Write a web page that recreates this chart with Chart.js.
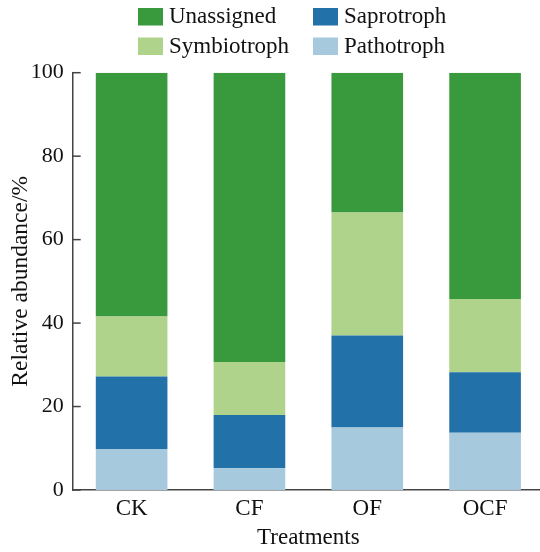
<!DOCTYPE html>
<html>
<head>
<meta charset="utf-8">
<script src="https://cdn.jsdelivr.net/npm/chart.js@4/dist/chart.umd.min.js"></script>
<style>
  html, body { margin: 0; padding: 0; background: #fff; overflow: hidden; }
  #wrap { width: 540px; height: 552px; overflow: hidden; }
</style>
</head>
<body>
<div id="wrap"><canvas id="c" width="544" height="552"></canvas></div>
<script>
// Fungal functional guilds per treatment (relative abundance, %)
const categories = ['CK', 'CF', 'OF', 'OCF'];
const pathotroph  = [9.8, 5.2, 15.0, 13.7];
const saprotroph  = [17.4, 12.8, 22.0, 14.5];
const symbiotroph = [14.4, 12.7, 29.5, 17.6];
const unassigned  = [58.4, 69.3, 33.5, 54.2];
const yTicks = [0, 20, 40, 60, 80, 100];

const colors = {
  Pathotroph: '#a6c9dd',
  Saprotroph: '#2271a8',
  Symbiotroph: '#afd38b',
  Unassigned: '#389a3c'
};

const FONT = "'Liberation Serif', 'Times New Roman', serif";
const AXIS = '#444444';

// Legend laid out in two aligned columns
const legendPlugin = {
  id: 'gridLegend',
  afterDraw(chart) {
    const ctx = chart.ctx;
    const order = ['Unassigned', 'Saprotroph', 'Symbiotroph', 'Pathotroph'];
    const colX = [138, 313];
    const rowY = [8, 37.5];
    ctx.save();
    ctx.font = '23px ' + FONT;
    ctx.textBaseline = 'middle';
    ctx.textAlign = 'left';
    order.forEach((name, i) => {
      const ds = chart.data.datasets.find(d => d.label === name);
      const x = colX[i % 2];
      const y = rowY[Math.floor(i / 2)];
      ctx.fillStyle = ds.backgroundColor;
      ctx.fillRect(x, y, 25, 17.5);
      ctx.fillStyle = '#111';
      ctx.fillText(name, x + 31, y + 9);
    });
    ctx.restore();
  }
};

// Inward-facing tick marks on the value axis
const innerTicks = {
  id: 'innerTicks',
  afterDraw(chart) {
    const ctx = chart.ctx;
    const y = chart.scales.y;
    const x0 = chart.chartArea.left;
    ctx.save();
    ctx.strokeStyle = AXIS;
    ctx.lineWidth = 1.5;
    yTicks.forEach(v => {
      const py = y.getPixelForValue(v);
      ctx.beginPath();
      ctx.moveTo(x0, py);
      ctx.lineTo(x0 + 8, py);
      ctx.stroke();
    });
    ctx.restore();
  }
};

const mk = (label, data) => ({
  label, data,
  backgroundColor: colors[label],
  borderWidth: 0,
  barPercentage: 0.608,
  categoryPercentage: 1.0
});

new Chart(document.getElementById('c'), {
  type: 'bar',
  data: {
    labels: categories,
    datasets: [
      mk('Pathotroph', pathotroph),
      mk('Saprotroph', saprotroph),
      mk('Symbiotroph', symbiotroph),
      mk('Unassigned', unassigned)
    ]
  },
  options: {
    responsive: false,
    animation: false,
    layout: { padding: { top: 72.7, left: 0, right: 0, bottom: 0 } },
    plugins: { legend: { display: false }, tooltip: { enabled: false } },
    scales: {
      x: {
        stacked: true,
        grid: { display: false, drawTicks: false },
        border: { display: true, color: AXIS, width: 1.5 },
        ticks: { color: '#111', font: { family: FONT, size: 23 }, padding: 5 },
        title: {
          display: true, text: 'Treatments', color: '#111',
          font: { family: FONT, size: 23 }, padding: { top: 0, bottom: 0 }
        },
        afterFit: s => { s.height = 62; }
      },
      y: {
        stacked: true,
        min: 0, max: 100,
        afterBuildTicks: s => { s.ticks = yTicks.map(v => ({ value: v })); },
        grid: { display: false, drawTicks: false },
        border: { display: true, color: AXIS, width: 1.5 },
        ticks: { color: '#111', font: { family: FONT, size: 22 }, padding: 9 },
        title: {
          display: true, text: 'Relative abundance/%', color: '#111',
          font: { family: FONT, size: 23.5 }, padding: { top: 7, bottom: 0 }
        },
        afterFit: s => { s.width = 72.7; }
      }
    }
  },
  plugins: [legendPlugin, innerTicks]
});
</script>
</body>
</html>
